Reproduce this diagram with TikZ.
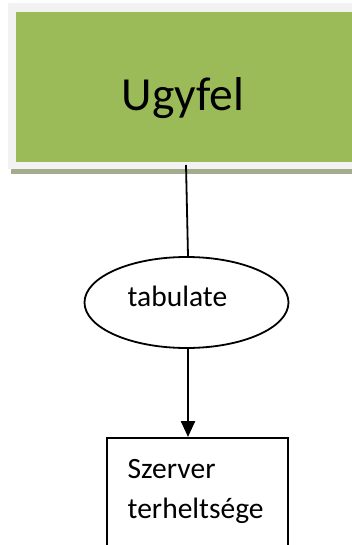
\documentclass[tikz,border=0pt]{standalone}
\usepackage{fontspec}
\setmainfont{Carlito}
\usetikzlibrary{shapes.geometric,arrows.meta,calc}
\definecolor{boxgreen}{HTML}{9BBB59}
\definecolor{framegray}{HTML}{F2F2F2}
\definecolor{shadowgray}{HTML}{A3AD8E}
\tikzset{
  labeltext/.style={inner sep=0pt, font=\fontsize{29.5}{40}\selectfont},
  shapeline/.style={draw=black, line width=1.8pt},
}
\begin{document}
\begin{tikzpicture}[x=1pt,y=-1pt]
\useasboundingbox (0,0) rectangle (352,545);
\clip (0,0) rectangle (352,545);

% header block: shadow, light frame, green panel
\fill[shadowgray] (11,164) rectangle (360,174.5);
\fill[framegray] (8,3) rectangle (360,169);
\node[fill=boxgreen, inner sep=0pt, minimum width=344pt, minimum height=150pt,
      anchor=north west] (ugyfel) at (16,11.5) {};
\node[inner sep=0pt, anchor=base, font=\fontsize{47.5}{50}\selectfont] (ugyfeltext) at (183,111) {Ugyfel};

% process ellipse
\node[ellipse, shapeline, minimum width=204pt, minimum height=91pt, inner sep=0pt] (tab) at (186.5,302.5) {};
\node[labeltext, anchor=base west] (tabtext) at (127.5,306) {tabulate};

% result box, running past the lower edge
\node[rectangle, shapeline, minimum width=181pt, minimum height=130pt, inner sep=0pt,
      anchor=north west] (szerver) at (106,437) {};
\node[labeltext, anchor=base west] (szerver1) at (127.5,478) {Szerver};
\node[labeltext, anchor=base west] (szerver2) at (127.5,518) {terheltsége};

% connectors
\coordinate (linetop) at (186,165);
\draw[line width=1.8pt] (linetop) -- (tab.north -| 188,0);
\draw[line width=2.4pt, -{Triangle[length=16pt,width=14pt]}] (tab.south -| 188,0) -- (szerver.north -| 188,0);
\end{tikzpicture}
\end{document}
